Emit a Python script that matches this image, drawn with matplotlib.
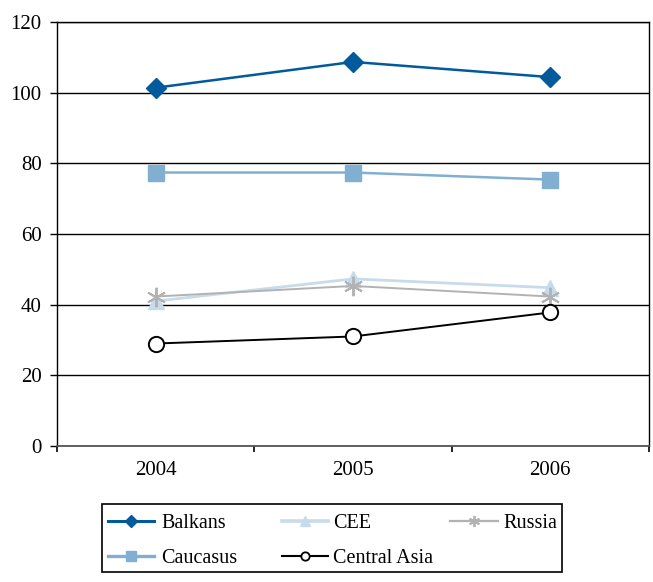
import matplotlib
matplotlib.use("Agg")
import matplotlib.pyplot as plt
from matplotlib.lines import Line2D
from matplotlib.patches import Rectangle

years = ["2004", "2005", "2006"]
balkans = [101.4, 108.7, 104.4]
caucasus = [77.4, 77.4, 75.4]
cee = [41.0, 47.3, 44.8]
russia = [42.3, 45.3, 42.3]
central_asia = [29.0, 31.0, 37.8]
y_ticks = [0, 20, 40, 60, 80, 100, 120]

plt.rcParams["font.family"] = ["Liberation Serif", "DejaVu Serif"]

W, H = 653, 582
fig = plt.figure(figsize=(W / 100, H / 100), dpi=100)
ax = fig.add_axes([57 / W, 1 - 446 / H, 592 / W, 424 / H])

x = list(range(len(years)))

styles = {
    "Balkans": dict(color="#005a9c", lw=1.8, marker="D", ms=10,
                    mec="#005a9c", mfc="#005a9c", zorder=5),
    "Caucasus": dict(color="#80afd2", lw=1.8, marker="s", ms=12,
                     mec="#80afd2", mfc="#80afd2", zorder=4),
    "CEE": dict(color="#c6dcec", lw=2.0, marker="^", ms=11,
                mec="#c6dcec", mfc="#c6dcec", zorder=3),
    "Russia": dict(color="#b2b2b2", lw=1.4, marker=(6, 2, 0), ms=14,
                   mec="#b2b2b2", mew=1.4, zorder=4),
    "Central Asia": dict(color="black", lw=1.4, marker="o", ms=11,
                         mec="black", mfc="white", mew=1.4, zorder=5),
}
series = {
    "Balkans": balkans,
    "Caucasus": caucasus,
    "CEE": cee,
    "Russia": russia,
    "Central Asia": central_asia,
}
for name, vals in series.items():
    ax.plot(x, vals, label=name, **styles[name])

ax.set_xlim(-0.5, len(years) - 0.5)
ax.set_ylim(0, 120)
ax.set_yticks(y_ticks)
ax.set_yticklabels([str(v) for v in y_ticks])
ax.yaxis.grid(True, color="black", lw=1.0)
ax.set_axisbelow(True)

# category labels centred between boundary ticks
ax.set_xticks([i - 0.5 for i in range(len(years) + 1)])
ax.set_xticklabels([""] * (len(years) + 1))
ax.set_xticks(x, minor=True)
ax.set_xticklabels(years, minor=True)
ax.tick_params(axis="x", which="minor", length=0, pad=11, labelsize=15)
ax.tick_params(axis="x", which="major", length=4.5, width=1.2, direction="out")
ax.tick_params(axis="y", length=5, width=1.0, direction="out", labelsize=15, pad=6)

for side in ("top", "right", "left"):
    ax.spines[side].set_linewidth(1.0)
    ax.spines[side].set_color("black")
ax.spines["bottom"].set_linewidth(1.3)
ax.spines["bottom"].set_color("#555555")

# legend box laid out in pixel positions
def fx(px):
    return px / W

def fy(py):
    return 1 - py / H

fig.add_artist(Rectangle((fx(102), fy(572)), fx(562) - fx(102), fy(504) - fy(572),
                         transform=fig.transFigure, fill=False,
                         edgecolor="black", lw=1.2))

legend_small = {"Balkans": 6.5, "Caucasus": 7, "CEE": 7, "Russia": 8, "Central Asia": 6}
legend_lw = {"Balkans": 2.2, "Caucasus": 2.4, "CEE": 2.6, "Russia": 1.6, "Central Asia": 1.5}
legend_slots = [
    ("Balkans", 108, 154, 161, 521),
    ("CEE", 282, 328, 333, 521),
    ("Russia", 450, 498, 503, 521),
    ("Caucasus", 108, 154, 161, 556),
    ("Central Asia", 282, 328, 333, 556),
]
for name, x0, x1, tx, yc in legend_slots:
    st = styles[name]
    fig.add_artist(Line2D([fx(x0), fx(x1)], [fy(yc), fy(yc)],
                          transform=fig.transFigure, color=st["color"],
                          lw=legend_lw[name]))
    fig.add_artist(Line2D([fx((x0 + x1) / 2)], [fy(yc)], transform=fig.transFigure,
                          linestyle="none", marker=st["marker"], ms=legend_small[name],
                          mec=st.get("mec", st["color"]), mfc=st.get("mfc", st["color"]),
                          mew=1.3 if name in ("Central Asia", "Russia") else 1.0))
    fig.text(fx(tx), fy(yc), name, fontsize=14.5, ha="left", va="center_baseline")

fig.savefig("out.png", dpi=100)
